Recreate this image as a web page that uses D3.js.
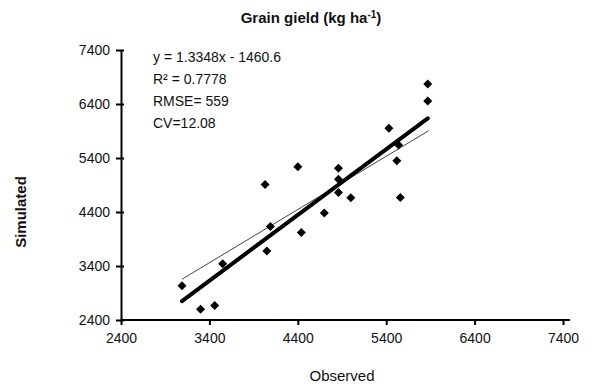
<!DOCTYPE html>
<html>
<head>
<meta charset="utf-8">
<script src="https://cdn.jsdelivr.net/npm/d3@7"></script>
<style>
  body { margin: 0; background: #fff; }
  svg text { font-family: Arial, "Liberation Sans", sans-serif; fill: #111; }
</style>
</head>
<body>
<svg width="607" height="389"></svg>
<script>
// observed vs simulated grain yield (kg/ha)
var observed  = [3090, 3300, 3460, 3550, 4030, 4050, 4090, 4400, 4440, 4700,
                 4860, 4860, 4860, 5000, 5430, 5520, 5540, 5560, 5870, 5870];
var simulated = [3035, 2600, 2670, 3440, 4910, 3680, 4130, 5240, 4020, 4380,
                 5210, 5005, 4760, 4665, 5950, 5350, 5640, 4670, 6770, 6455];

// line ends
var fitX = [3090, 5870], fitY = [2750, 6135];
var trendX = [3090, 5880], trendY = [3155, 5905];

var ticks = [2400, 3400, 4400, 5400, 6400, 7400];
var statLines = ['y = 1.3348x - 1460.6', 'R\u00b2 = 0.7778', 'RMSE= 559', 'CV=12.08'];

var svg = d3.select('svg'),
    w = +svg.attr('width'),
    h = +svg.attr('height');

var x = d3.scaleLinear().domain([2400, 7400]).range([121, 563]),
    y = d3.scaleLinear().domain([2400, 7400]).range([320, 50]);

// title
var title = svg.append('text')
    .attr('x', 311).attr('y', 23)
    .attr('text-anchor', 'middle')
    .style('font-size', '15px').style('font-weight', 'bold');
title.append('tspan').text('Grain gield (kg ha');
title.append('tspan').text('-1').attr('dy', -5).style('font-size', '10px');
title.append('tspan').text(')').attr('dy', 5);

// axes
var fmt = d3.format('d');
var xAxis = svg.append('g')
    .attr('transform', 'translate(0,' + y(2400) + ')')
    .call(d3.axisBottom(x).tickValues(ticks).tickFormat(fmt)
      .tickSize(5).tickSizeOuter(0).tickPadding(8));
var yAxis = svg.append('g')
    .attr('transform', 'translate(' + x(2400) + ',0)')
    .call(d3.axisLeft(y).tickValues(ticks).tickFormat(fmt)
      .tickSize(5).tickSizeOuter(0).tickPadding(6));

xAxis.select('.domain').attr('d', 'M' + x(2400) + ',0H' + (x(7400) + 7));
xAxis.selectAll('.tick line').attr('y1', -1);
yAxis.selectAll('.tick line').attr('x1', 3);

[xAxis, yAxis].forEach(function(a){
  a.select('.domain').attr('stroke', '#000').attr('stroke-width', 2);
  a.selectAll('.tick line').attr('stroke', '#000').attr('stroke-width', 2);
  a.selectAll('.tick text')
    .style('font-size', '14px').style('font-family', 'Arial, "Liberation Sans", sans-serif')
    .attr('fill', '#222');
});

// axis titles
svg.append('text')
    .attr('x', x(4900)).attr('y', 381)
    .attr('text-anchor', 'middle')
    .style('font-size', '15px')
    .text('Observed');
svg.append('text')
    .attr('transform', 'translate(26,' + y(4400) + ') rotate(-90)')
    .attr('text-anchor', 'middle')
    .style('font-size', '15px').style('font-weight', 'bold')
    .text('Simulated');

// trend lines
svg.append('line')
    .attr('x1', x(trendX[0])).attr('y1', y(trendY[0]))
    .attr('x2', x(trendX[1])).attr('y2', y(trendY[1]))
    .attr('stroke', '#444').attr('stroke-width', 1);
svg.append('line')
    .attr('x1', x(fitX[0])).attr('y1', y(fitY[0]))
    .attr('x2', x(fitX[1])).attr('y2', y(fitY[1]))
    .attr('stroke', '#000').attr('stroke-width', 4)
    .attr('stroke-linecap', 'round');

// points
var pts = d3.zip(observed, simulated);
svg.selectAll('path.pt')
    .data(pts)
    .enter()
    .append('path')
    .attr('class', 'pt')
    .attr('d', 'M0,-4.5L4.5,0L0,4.5L-4.5,0Z')
    .attr('transform', function(d){ return 'translate(' + x(d[0]) + ',' + y(d[1]) + ')'; })
    .attr('fill', '#000');

// stats text
svg.append('g').selectAll('text')
    .data(statLines)
    .enter()
    .append('text')
    .attr('x', 153)
    .attr('y', function(d, i){ return 62 + i * 22; })
    .style('font-size', '14px')
    .attr('fill', '#222')
    .text(function(d){ return d; });
</script>
</body>
</html>
